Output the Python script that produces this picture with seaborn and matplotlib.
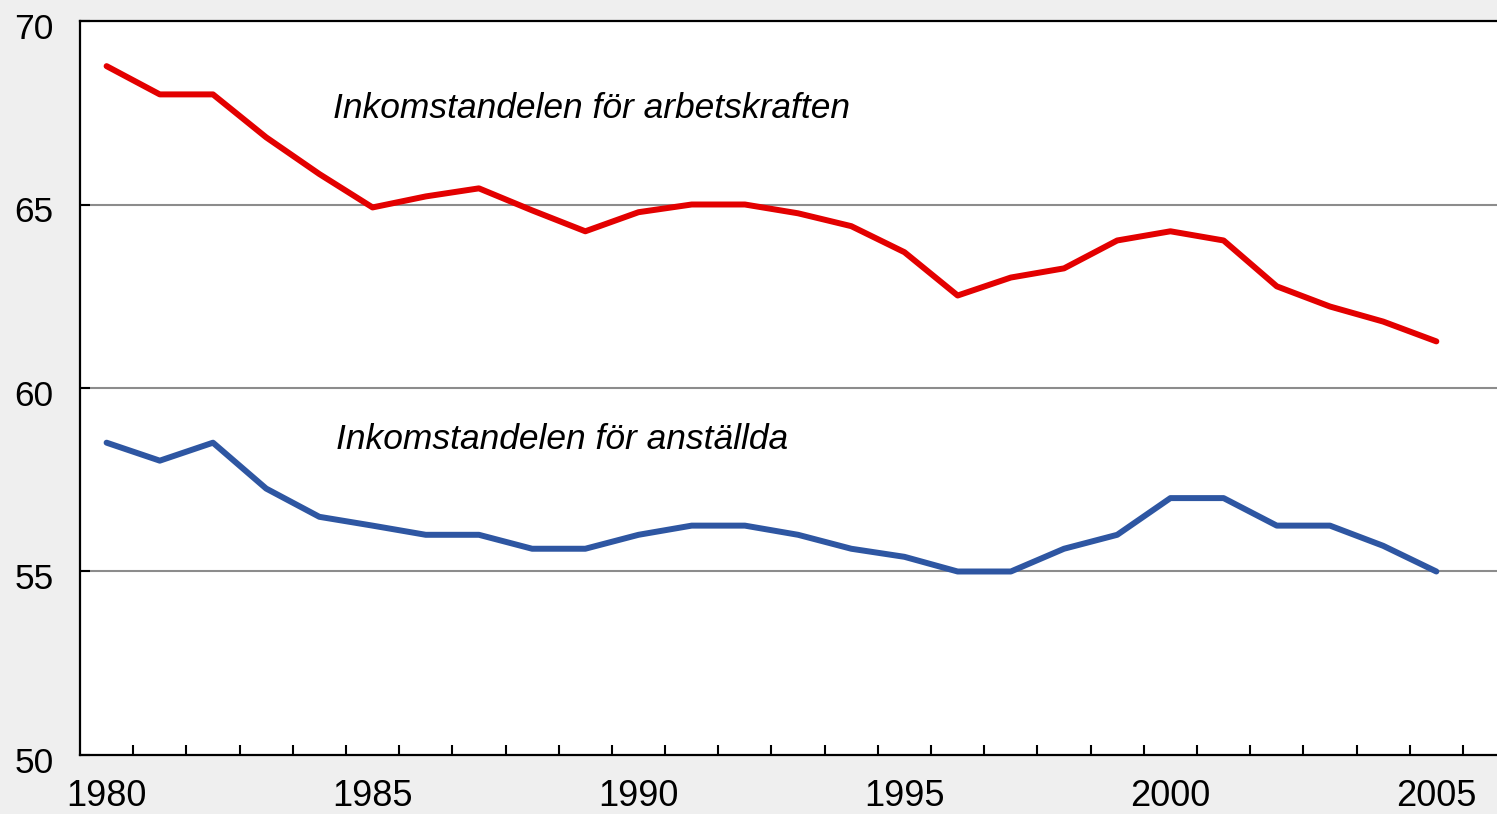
import matplotlib
matplotlib.use("Agg")
import matplotlib.pyplot as plt
import matplotlib.transforms as mtransforms
import seaborn as sns
import pandas as pd
import numpy as np
from matplotlib.ticker import FixedLocator

years = list(range(1980, 2006))
arbetskraften = [68.77, 68.0, 68.0, 66.83, 65.83, 64.92, 65.22, 65.44, 64.84, 64.27,
                 64.79, 65.0, 65.0, 64.76, 64.41, 63.70, 62.52, 63.01, 63.26, 64.02,
                 64.27, 64.02, 62.77, 62.22, 61.81, 61.27]
anstallda = [58.51, 58.02, 58.51, 57.26, 56.49, 56.25, 56.0, 56.0, 55.62, 55.62,
             56.0, 56.25, 56.25, 56.0, 55.62, 55.40, 55.0, 55.0, 55.62, 56.0,
             57.0, 57.0, 56.25, 56.25, 55.7, 55.0]
label_arb = "Inkomstandelen för arbetskraften"
label_anst = "Inkomstandelen för anställda"
xtick_years = [1980, 1985, 1990, 1995, 2000, 2005]
ytick_vals = [50, 55, 60, 65, 70]

df = pd.DataFrame({
    "year": years * 2,
    "value": arbetskraften + anstallda,
    "series": [label_arb] * len(years) + [label_anst] * len(years),
})

sns.set_style("white")
plt.rcParams["font.family"] = ["Liberation Sans", "DejaVu Sans"]
plt.rcParams["text.color"] = "black"
plt.rcParams["xtick.color"] = "black"
plt.rcParams["ytick.color"] = "black"

fig = plt.figure(figsize=(14.97, 8.14), dpi=100, facecolor="#efefef")
ax = fig.add_axes([80 / 1497, 1 - 755 / 814, 1 - 80 / 1497, (755 - 21) / 814])
ax.set_facecolor("white")

sns.lineplot(data=df, x="year", y="value", hue="series",
             palette={label_arb: "#e30000", label_anst: "#2e56a2"},
             linewidth=4.3, legend=False, ax=ax)

ax.set_xlim(1979.5, 2006.14)
ax.set_ylim(50, 70)
ax.set_xlabel("")
ax.set_ylabel("")

ax.xaxis.set_major_locator(FixedLocator(xtick_years))
ax.set_xticklabels([str(y) for y in xtick_years])
ax.xaxis.set_minor_locator(FixedLocator([y + 0.5 for y in years]))
ax.tick_params(axis="x", which="major", length=0, pad=17, labelsize=26,
               labelcolor="black")
ax.tick_params(axis="x", which="minor", direction="in", length=7.2, width=1.5,
               color="black", bottom=True)

ax.set_yticks(ytick_vals)
ax.tick_params(axis="y", which="major", direction="in", length=7.2, width=1.5,
               color="black", left=True, pad=19, labelsize=25.5, labelcolor="black")

offset = mtransforms.ScaledTranslation(0, -5 / 100, fig.dpi_scale_trans)
for lbl in ax.get_yticklabels():
    lbl.set_transform(lbl.get_transform() + offset)

for v in [55, 60, 65]:
    ax.axhline(v, color="#8c8c8c", linewidth=1.5, zorder=0.5)

for side in ["left", "bottom", "top"]:
    ax.spines[side].set_visible(True)
    ax.spines[side].set_color("black")
    ax.spines[side].set_linewidth(1.6)
ax.spines["right"].set_visible(False)

ax.text(1984.25, 67.35, label_arb, style="italic", fontsize=25.5,
        ha="left", va="baseline", color="black")
ax.text(1984.32, 58.35, label_anst, style="italic", fontsize=25.5,
        ha="left", va="baseline", color="black")

fig.savefig("out.png", dpi=100, facecolor=fig.get_facecolor())
